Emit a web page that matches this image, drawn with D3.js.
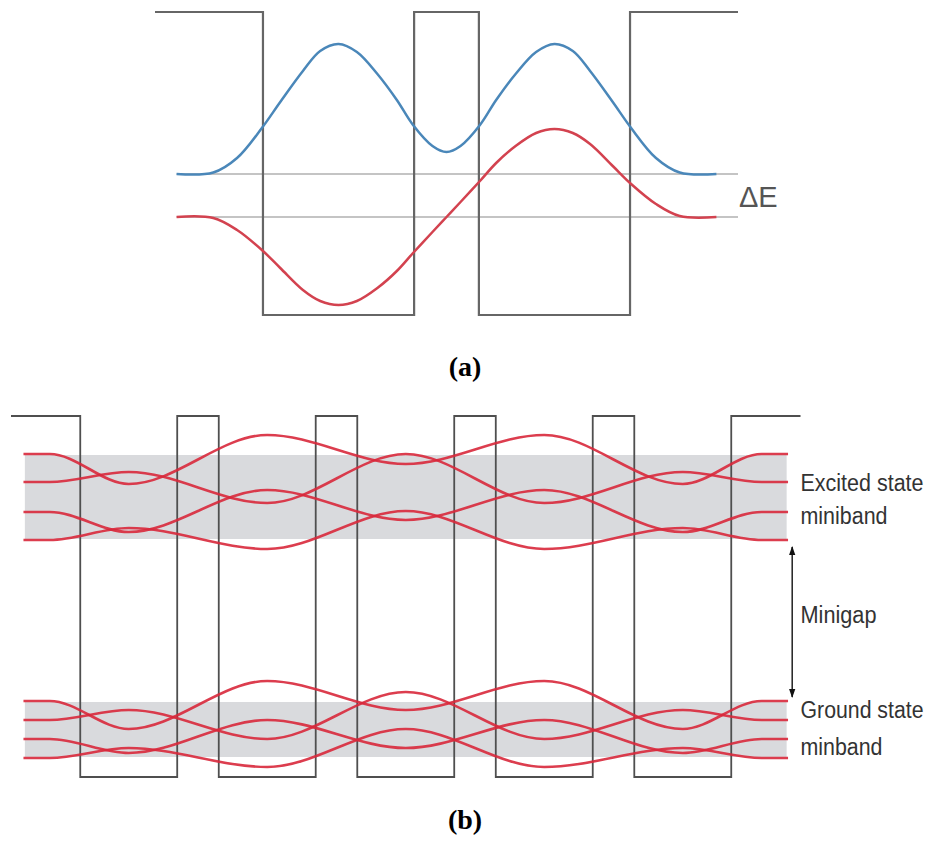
<!DOCTYPE html>
<html>
<head>
<meta charset="utf-8">
<script src="https://cdn.jsdelivr.net/npm/d3@7"></script>
<style>
  body { margin: 0; background: #fff; }
  svg { display: block; }
</style>
</head>
<body>
<div id="chart"></div>
<script>
// ---- panel (a): double quantum well ----
// layer widths along growth direction (nm), barrier height in meV
var layerTypesA = ["barrier", "well", "barrier", "well", "barrier"];
var layerWidthsA = [10, 14, 6, 14, 10];
var barrierA = 303;

// wavefunctions (x in nm, psi as meV offset from its level)
var psiX = [2, 5.4, 7.6, 9.9, 11.6, 13.7, 15.3, 17, 18.7, 20.6, 22.4, 23.9, 25.7, 27,
            28.3, 30.1, 31.6, 33.4, 35.3, 37, 38.7, 40.3, 42.4, 44.1, 46.4, 48.6, 52];
var psiSym = [0, 1.5, 16, 46, 72, 103, 123, 130, 122, 100, 74, 49, 28, 22,
              28, 49, 74, 100, 122, 130, 123, 103, 72, 46, 16, 1.5, 0];
var psiAnti = [0, -1, -13, -33, -51, -73, -84, -88, -84, -71, -54, -36, -15, 0,
               15, 36, 54, 71, 84, 88, 84, 73, 51, 33, 13, 1, 0];
var levelsA = [141, 98]; // symmetric, antisymmetric level
var levelLineX = [2, 54];

// ---- panel (b): superlattice ----
var layerTypesB = ["barrier", "well", "barrier", "well", "barrier", "well", "barrier", "well", "barrier", "well", "barrier"];
var layerWidthsB = [5, 7, 3, 7, 3, 7, 3, 7, 3, 7, 5];
var barrierB = 361;

var stateX = [0.9, 2.8, 8.5, 18.5, 28.5, 38.5, 48.5, 54.2, 56.1];
var excitedStates = [
  [323, 323, 293, 342, 313, 342, 293, 323, 323],
  [295, 295, 305, 274, 323, 274, 305, 295, 295],
  [265, 265, 245, 287, 257, 287, 245, 265, 265],
  [237, 237, 249, 228, 266, 228, 249, 237, 237]
];
var groundStates = [
  [76, 76, 48, 96, 67, 96, 48, 76, 76],
  [57, 57, 67, 38, 85, 38, 67, 57, 57],
  [38, 38, 24, 57, 29, 57, 24, 38, 38],
  [19, 19, 29, 10, 48, 10, 29, 19, 19]
];
var excitedBand = [238, 322];
var groundBand = [20, 75];
var bandX = [1, 56];
var minigap = [80, 230];

var labelsB = [
  { text: "Excited state", e: 286, w: 123 },
  { text: "miniband", e: 253, w: 87 },
  { text: "Minigap", e: 154, w: 76 },
  { text: "Ground state", e: 59, w: 123 },
  { text: "minband", e: 22, w: 82 }
];

var width = 929, height = 844;

var svg = d3.select("#chart").append("svg")
    .attr("width", width)
    .attr("height", height);

svg.append("defs").append("marker")
    .attr("id", "head")
    .attr("viewBox", "0 0 10 10")
    .attr("refX", 9).attr("refY", 5)
    .attr("markerWidth", 9).attr("markerHeight", 10)
    .attr("markerUnits", "userSpaceOnUse")
    .attr("orient", "auto-start-reverse")
    .append("path")
    .attr("d", "M0,1.5 L10,5 L0,8.5 Z")
    .attr("fill", "#111");

// builds the step profile of the conduction band
function profile(types, widths, v) {
    var pts = [], x = 0;
    types.forEach(function (t, i) {
        var e = t === "barrier" ? v : 0;
        pts.push([x, e]);
        x += widths[i];
        pts.push([x, e]);
    });
    return pts;
}

// ---------- (a) ----------
var xA = d3.scaleLinear().domain([0, d3.sum(layerWidthsA)]).range([155, 738]);
var yA = d3.scaleLinear().domain([0, barrierA]).range([315, 12]);

var gA = svg.append("g");

gA.selectAll("line.level")
    .data(levelsA)
    .enter().append("line")
    .attr("class", "level")
    .attr("x1", xA(levelLineX[0]))
    .attr("x2", xA(levelLineX[1]))
    .attr("y1", function (d) { return yA(d); })
    .attr("y2", function (d) { return yA(d); })
    .attr("stroke", "#c4c4c4")
    .attr("stroke-width", 2);

gA.append("path")
    .attr("d", d3.line().x(function (d) { return xA(d[0]); }).y(function (d) { return yA(d[1]); })(profile(layerTypesA, layerWidthsA, barrierA)))
    .attr("fill", "none")
    .attr("stroke", "#666")
    .attr("stroke-width", 2.2);

var waveA = d3.line().curve(d3.curveCatmullRom.alpha(0.5))
    .x(function (d) { return xA(d[0]); })
    .y(function (d) { return yA(d[1]); });

var wavesA = [
    { psi: psiSym, level: levelsA[0], color: "#4a87b9" },
    { psi: psiAnti, level: levelsA[1], color: "#d3424f" }
];

gA.selectAll("path.wave")
    .data(wavesA)
    .enter().append("path")
    .attr("class", "wave")
    .attr("d", function (w) {
        return waveA(psiX.map(function (x, i) { return [x, w.level + w.psi[i]]; }));
    })
    .attr("fill", "none")
    .attr("stroke", function (w) { return w.color; })
    .attr("stroke-width", 2.5);

gA.append("text")
    .attr("x", xA(54) + 1)
    .attr("y", yA((levelsA[0] + levelsA[1]) / 2) + 11)
    .attr("font-family", "Liberation Sans, Arial, sans-serif")
    .attr("font-size", 29)
    .attr("fill", "#555")
    .text("\u0394E");

svg.append("text")
    .attr("x", 465).attr("y", 376)
    .attr("text-anchor", "middle")
    .attr("font-family", "Liberation Serif, Times New Roman, serif")
    .attr("font-weight", "bold")
    .attr("font-size", 28)
    .text("(a)");

// ---------- (b) ----------
var xB = d3.scaleLinear().domain([0, d3.sum(layerWidthsB)]).range([11, 800.5]);
var yB = d3.scaleLinear().domain([0, barrierB]).range([777, 416]);

var gB = svg.append("g");

gB.selectAll("rect.band")
    .data([excitedBand, groundBand])
    .enter().append("rect")
    .attr("class", "band")
    .attr("x", xB(bandX[0]))
    .attr("width", xB(bandX[1]) - xB(bandX[0]))
    .attr("y", function (d) { return yB(d[1]); })
    .attr("height", function (d) { return yB(d[0]) - yB(d[1]); })
    .attr("fill", "#d9dadd");

gB.append("path")
    .attr("d", d3.line().x(function (d) { return xB(d[0]); }).y(function (d) { return yB(d[1]); })(profile(layerTypesB, layerWidthsB, barrierB)))
    .attr("fill", "none")
    .attr("stroke", "#4f4f4f")
    .attr("stroke-width", 1.8);

var stateLine = d3.line().curve(d3.curveMonotoneX)
    .x(function (d, i) { return xB(stateX[i]); })
    .y(function (d) { return yB(d); });

gB.selectAll("path.state")
    .data(excitedStates.concat(groundStates))
    .enter().append("path")
    .attr("class", "state")
    .attr("d", stateLine)
    .attr("fill", "none")
    .attr("stroke", "#d8283b")
    .attr("stroke-width", 2.6)
    .attr("stroke-opacity", 0.9);

gB.append("line")
    .attr("x1", xB(56.4)).attr("x2", xB(56.4))
    .attr("y1", yB(minigap[1])).attr("y2", yB(minigap[0]))
    .attr("stroke", "#111")
    .attr("stroke-width", 1.4)
    .attr("marker-start", "url(#head)")
    .attr("marker-end", "url(#head)");

// narrow labels: smaller font stretched vertically so the natural width stays inside the page
gB.selectAll("text.label")
    .data(labelsB)
    .enter().append("text")
    .attr("class", "label")
    .attr("transform", function (d) { return "translate(" + xB(57) + "," + yB(d.e) + ") scale(1,1.15)"; })
    .attr("font-family", "Liberation Sans Narrow, Arial Narrow, Liberation Sans, Arial, sans-serif")
    .attr("font-size", 21.5)
    .attr("fill", "#333")
    .attr("textLength", function (d) { return d.w; })
    .attr("lengthAdjust", "spacingAndGlyphs")
    .text(function (d) { return d.text; });

svg.append("text")
    .attr("x", 465).attr("y", 829)
    .attr("text-anchor", "middle")
    .attr("font-family", "Liberation Serif, Times New Roman, serif")
    .attr("font-weight", "bold")
    .attr("font-size", 28)
    .text("(b)");
</script>
</body>
</html>
